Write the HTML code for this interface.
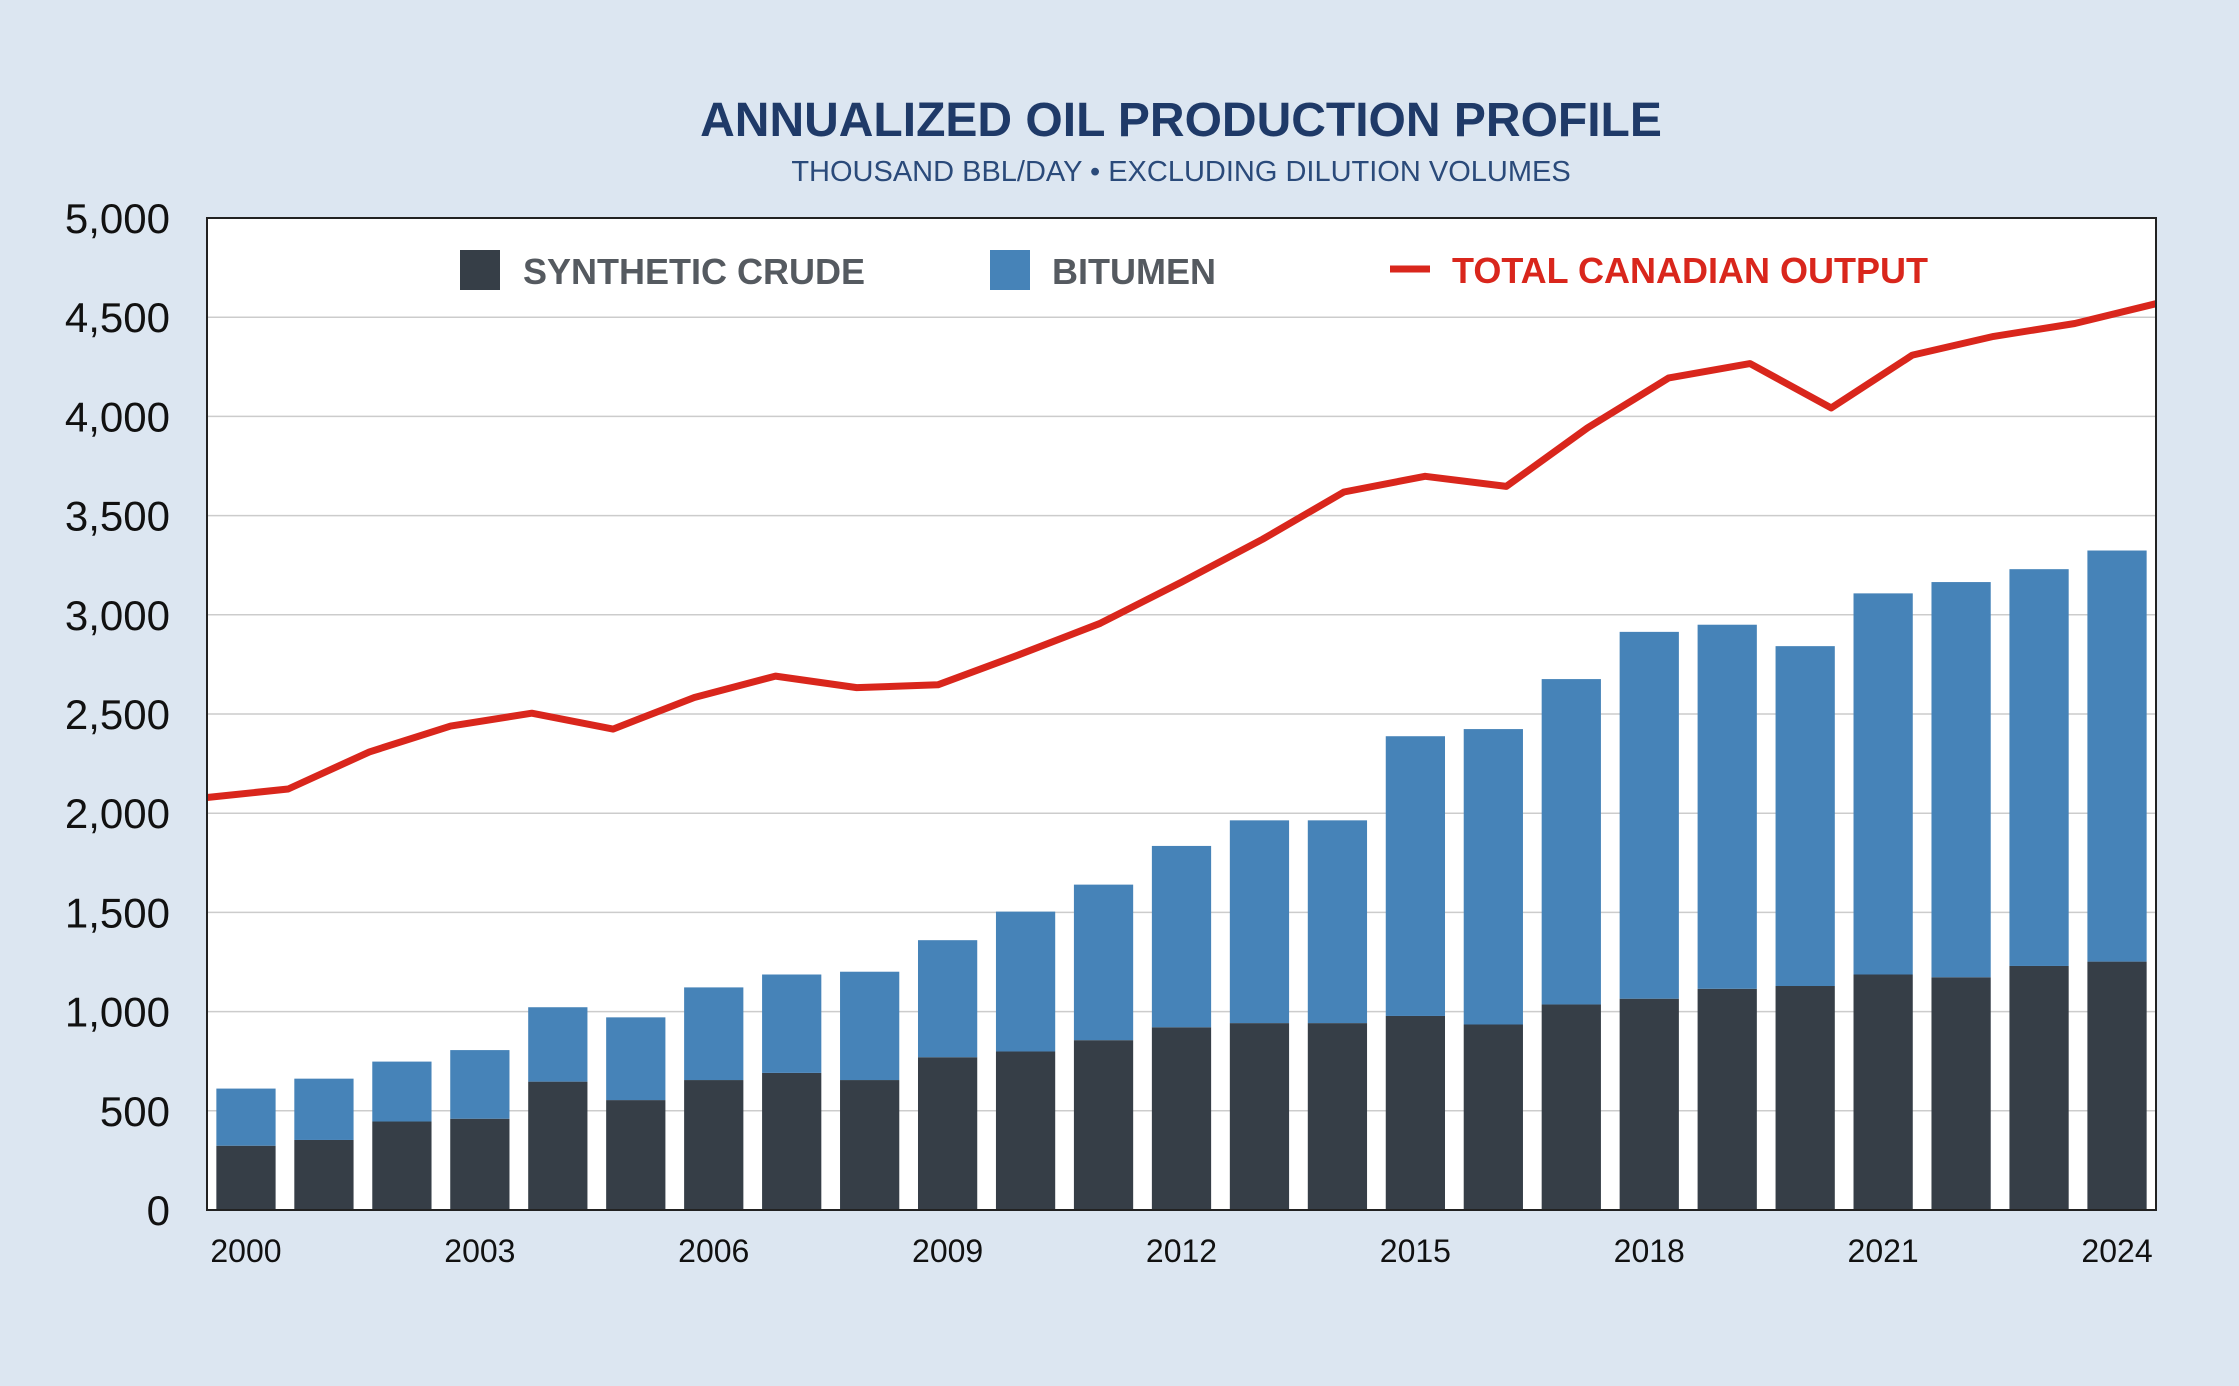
<!DOCTYPE html>
<html><head><meta charset="utf-8"><style>
html,body{margin:0;padding:0;background:#dce6f1;}
svg{display:block;font-family:"Liberation Sans",sans-serif;}
</style></head><body>
<svg id="chart" width="2239" height="1386" viewBox="0 0 2239 1386" xmlns="http://www.w3.org/2000/svg">
<rect x="0" y="0" width="2239" height="1386" fill="#dce6f1"/>
<text x="1181" y="136" text-anchor="middle" font-size="48" font-weight="bold" fill="#1f3a68">ANNUALIZED OIL PRODUCTION PROFILE</text>
<text x="1181" y="181" text-anchor="middle" font-size="29" fill="#2a4a7a">THOUSAND BBL/DAY • EXCLUDING DILUTION VOLUMES</text>
<rect x="207" y="218" width="1949" height="992" fill="#ffffff"/>
<g id="grid"></g>
<g id="bars"></g>
<g id="line"></g>
<rect x="207" y="218" width="1949" height="992" fill="none" stroke="#222" stroke-width="2"/>
<g id="yticks"></g>
<g id="xticks"></g>
<g>
  <rect x="460" y="250" width="40" height="40" fill="#363e47"/>
  <text x="523" y="284" font-size="36" font-weight="bold" fill="#555a60">SYNTHETIC CRUDE</text>
  <rect x="990" y="250" width="40" height="40" fill="#4683b8"/>
  <text x="1052" y="284" font-size="36" font-weight="bold" fill="#555a60">BITUMEN</text>
  <line x1="1390" y1="269" x2="1430" y2="269" stroke="#d9261c" stroke-width="7"/>
  <text x="1452" y="283" font-size="36" font-weight="bold" fill="#d9261c">TOTAL CANADIAN OUTPUT</text>
</g>
</svg>
<script>
const years = [2000,2001,2002,2003,2004,2005,2006,2007,2008,2009,2010,2011,2012,2013,2014,2015,2016,2017,2018,2019,2020,2021,2022,2023,2024];
const synthetic = [324,353,446,460,647,554,655,691,655,770,799,856,921,942,942,978,935,1036,1065,1115,1129,1187,1173,1230,1252];
const bitumen = [288,309,302,346,375,417,467,496,546,590,705,784,914,1022,1022,1410,1489,1640,1849,1835,1713,1921,1992,2000,2072];
const totalOutput = [2079,2122,2309,2439,2504,2424,2583,2691,2633,2647,2799,2957,3165,3381,3619,3698,3647,3942,4194,4266,4043,4309,4403,4468,4568];
const yTicks = [0,500,1000,1500,2000,2500,3000,3500,4000,4500,5000];
const xLabelYears = [2000,2003,2006,2009,2012,2015,2018,2021,2024];

const NS='http://www.w3.org/2000/svg';
const L=207,R=2156,T=218,B=1210,YMAX=5000;
const band=(R-L)/years.length, bw=band*0.76;
function y(v){return B-(v/YMAX)*(B-T);}
function xBand(i){return L+band*i+band/2;}
function xLine(i){return L+(R-L)*i/(years.length-1);}
function mk(tag,attrs,parent){const e=document.createElementNS(NS,tag);for(const k in attrs)e.setAttribute(k,attrs[k]);parent.appendChild(e);return e;}
const grid=document.getElementById('grid'),bars=document.getElementById('bars'),line=document.getElementById('line'),yt=document.getElementById('yticks'),xt=document.getElementById('xticks');
yTicks.forEach(v=>{
  if(v>0&&v<YMAX){const g=mk('line',{x1:L,x2:R,y1:y(v),y2:y(v),stroke:'#cccccc','stroke-width':1.5},grid);
  
  }
  const t=mk('text',{x:170,y:y(v)+15,'text-anchor':'end','font-size':42,fill:'#111'},yt);
  t.textContent=v.toLocaleString('en-US');
  
  
});
years.forEach((yr,i)=>{
  const cx=xBand(i);
  const s=mk('rect',{x:cx-bw/2,y:y(synthetic[i]),width:bw,height:B-y(synthetic[i]),fill:'#363e47'},bars);
  
  
  const top=synthetic[i]+bitumen[i];
  const b=mk('rect',{x:cx-bw/2,y:y(top),width:bw,height:y(synthetic[i])-y(top),fill:'#4683b8'},bars);
  
  
  if(xLabelYears.includes(yr)){
    const t=mk('text',{x:cx,y:1262,'text-anchor':'middle','font-size':32,fill:'#111'},xt);
    t.textContent=yr;
    
    
  }
});
const pts=totalOutput.map((v,i)=>xLine(i).toFixed(1)+','+y(v).toFixed(1)).join(' ');
const pl=mk('polyline',{points:pts,fill:'none',stroke:'#d9261c','stroke-width':7,'stroke-linejoin':'round'},line);


</script>
</body></html>
